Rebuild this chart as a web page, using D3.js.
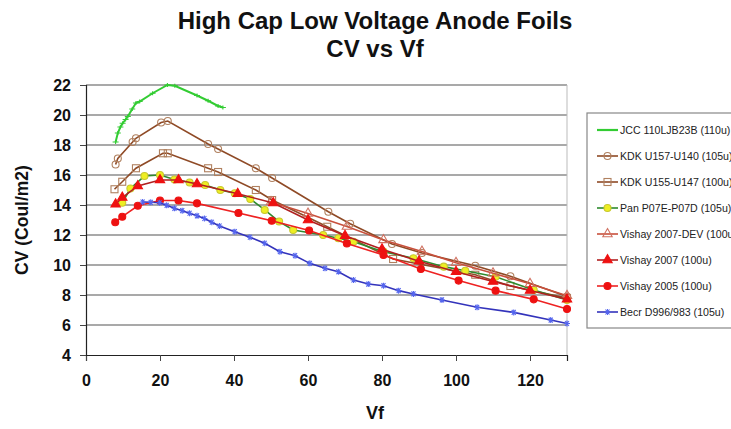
<!DOCTYPE html>
<html>
<head>
<meta charset="utf-8">
<script src="https://cdn.jsdelivr.net/npm/d3@7"></script>
<style>
  body { margin: 0; background: #fff; }
  svg text { font-family: "Liberation Sans", Arial, sans-serif; }
</style>
</head>
<body>
<svg id="chart" width="731" height="429"></svg>
<script>
// values
const jccV   = [8, 8.6, 9.3, 9.9, 10.7, 11.3, 12.5, 13.5, 14.5, 18, 22, 24, 30, 33, 35.7, 37];
const jccCV  = [18.2, 18.8, 19.2, 19.45, 19.7, 19.9, 20.4, 20.8, 20.9, 21.45, 22.0, 21.95, 21.3, 20.95, 20.6, 20.5];

const k157V  = [8, 8.6, 12.6, 13.5, 20.3, 22.1, 33, 35.7, 45.9, 50.3, 65.5, 71.4, 82.7, 90.8, 105.2, 114.7, 130];
const k157CV = [16.7, 17.1, 18.2, 18.45, 19.5, 19.6, 18.07, 17.73, 16.45, 15.8, 13.55, 12.75, 11.4, 10.8, 9.95, 9.25, 7.9];

const k155V  = [7.7, 9.8, 13.5, 20.8, 22.1, 33, 35.7, 45.9, 50.3, 65.2, 83, 105.2, 114.7, 130];
const k155CV = [15.05, 15.55, 16.45, 17.45, 17.45, 16.45, 16.2, 15.0, 14.33, 12.55, 10.4, 9.35, 8.6, 7.8];

const panV   = [9.8, 12, 15.8, 20, 23.9, 28, 32.2, 36.3, 40.2, 44.4, 48.3, 52.2, 56, 64.1, 68.2, 72.3, 80.4, 88.5, 96.7, 102.5, 110.7, 121, 130];
const panCV  = [14.15, 15.1, 15.93, 16.0, 15.7, 15.5, 15.33, 15.0, 14.78, 14.4, 13.67, 12.9, 12.33, 12.0, 11.78, 11.55, 10.89, 10.45, 9.89, 9.62, 9.22, 8.33, 7.67];

const devV   = [50, 60, 70.5, 80.4, 90.8, 100, 110, 120, 130];
const devCV  = [14.2, 13.44, 12.56, 11.67, 10.9, 10.15, 9.45, 8.75, 7.95];

const v07V   = [8, 9.8, 14, 20, 25, 30, 41, 50.6, 60, 70, 80, 90, 100, 110, 120, 130];
const v07CV  = [14.05, 14.5, 15.27, 15.67, 15.67, 15.4, 14.75, 14.13, 13.0, 11.95, 11.05, 10.25, 9.55, 8.9, 8.3, 7.72];

const v05V   = [7.9, 9.8, 14, 20, 25, 30, 41.2, 50.2, 60.3, 70.5, 80.4, 90.5, 100.7, 110.7, 121, 130];
const v05CV  = [12.85, 13.22, 13.95, 14.3, 14.3, 14.11, 13.47, 12.95, 12.3, 11.44, 10.67, 9.73, 8.96, 8.29, 7.71, 7.07];

const becrV  = [15.3, 17.5, 19.9, 21.8, 23.9, 26, 28, 30, 32, 34, 36.1, 40.2, 44.3, 48.3, 52.4, 56.5, 60.5, 64.6, 68.2, 72.3, 76.3, 80.4, 84.5, 88.5, 96.2, 105.7, 115.6, 125.6, 130];
const becrCV = [14.2, 14.18, 14.15, 13.98, 13.78, 13.62, 13.45, 13.28, 13.1, 12.85, 12.6, 12.22, 11.85, 11.45, 10.89, 10.62, 10.11, 9.78, 9.55, 9.0, 8.73, 8.62, 8.29, 8.07, 7.67, 7.18, 6.84, 6.33, 6.1];

const seriesNames = ["JCC 110LJB23B (110u)", "KDK U157-U140 (105u)", "KDK U155-U147 (100u)",
  "Pan P07E-P07D (105u)", "Vishay 2007-DEV (100u)", "Vishay 2007 (100u)", "Vishay 2005 (100u)", "Becr D996/983 (105u)"];
const xTicks = [0, 20, 40, 60, 80, 100, 120];
const yTicks = [4, 6, 8, 10, 12, 14, 16, 18, 20, 22];

const zip = (a, b) => a.map((v, i) => [v, b[i]]);
const series = [
  {name: seriesNames[0], pts: zip(jccV, jccCV),   line: "#33cc33", mark: "tick",     mfill: "none",    mstroke: "#33cc33"},
  {name: seriesNames[1], pts: zip(k157V, k157CV), line: "#8f4a26", mark: "circle",   mfill: "none",    mstroke: "#b0805f"},
  {name: seriesNames[2], pts: zip(k155V, k155CV), line: "#8f4a26", mark: "square",   mfill: "none",    mstroke: "#b0805f"},
  {name: seriesNames[3], pts: zip(panV, panCV),   line: "#2e8b2e", mark: "circle",   mfill: "#eeee22", mstroke: "#c8c830"},
  {name: seriesNames[4], pts: zip(devV, devCV),   line: "#c8503c", mark: "triangle", mfill: "none",    mstroke: "#d07060"},
  {name: seriesNames[5], pts: zip(v07V, v07CV),   line: "#b02020", mark: "triangle", mfill: "#ee1111", mstroke: "#ee1111"},
  {name: seriesNames[6], pts: zip(v05V, v05CV),   line: "#ee2222", mark: "circle",   mfill: "#ee1111", mstroke: "#ee1111"},
  {name: seriesNames[7], pts: zip(becrV, becrCV), line: "#3333bb", mark: "star",     mfill: "none",    mstroke: "#5566ee"}
];

const svg = d3.select("#chart");
const x = d3.scaleLinear().domain([0, 130]).range([86, 567]);
const y = d3.scaleLinear().domain([4, 22]).range([355, 85]);

// grid
svg.append("g").selectAll("line").data(yTicks.slice(1)).join("line")
  .attr("x1", 86).attr("x2", 567)
  .attr("y1", d => y(d)).attr("y2", d => y(d))
  .attr("stroke", "#8c8c8c").attr("stroke-width", 1.5);
svg.append("line").attr("x1", 567).attr("x2", 567).attr("y1", y(22)).attr("y2", y(4))
  .attr("stroke", "#bbb").attr("stroke-width", 1);

// axes
const xAxis = svg.append("g").attr("transform", "translate(0,355)")
  .call(d3.axisBottom(x).tickValues(xTicks).tickSize(6).tickPadding(14));
const yAxis = svg.append("g").attr("transform", "translate(86,0)")
  .call(d3.axisLeft(y).tickValues(yTicks).tickSize(6).tickPadding(9));
[xAxis, yAxis].forEach(g => {
  g.select(".domain").attr("stroke", "#222").attr("stroke-width", 1.2);
  g.selectAll(".tick line").attr("stroke", "#444");
  g.selectAll("text").attr("font-size", 16).attr("font-weight", "bold").attr("fill", "#111")
    .style("font-family", '"Liberation Sans", Arial, sans-serif');
});

// series
const line = d3.line().x(d => x(d[0])).y(d => y(d[1]));
function marker(g, s, px, py) {
  const m = g.append("g").attr("transform", `translate(${px},${py})`);
  if (s.mark === "circle") m.append("circle").attr("r", 3.5);
  else if (s.mark === "square") m.append("rect").attr("x", -3.5).attr("y", -3.5).attr("width", 7).attr("height", 7);
  else if (s.mark === "triangle") m.append("path").attr("d", d3.symbol(d3.symbolTriangle, 38)());
  else if (s.mark === "tick") m.append("path").attr("d", "M-3,0H3M0,-2V2");
  else if (s.mark === "star") m.append("path").attr("d", "M-3,0H3M-2,-2.5L2,2.5M2,-2.5L-2,2.5M0,-3V3");
  m.selectAll("*").attr("fill", s.mfill).attr("stroke", s.mstroke).attr("stroke-width", 1.1);
}
series.forEach(s => {
  const g = svg.append("g");
  g.append("path").datum(s.pts).attr("d", line)
    .attr("fill", "none").attr("stroke", s.line).attr("stroke-width", s.mark === "tick" ? 2 : 1.6);
  s.pts.forEach(p => marker(g, s, x(p[0]), y(p[1])));
});

// legend
const leg = svg.append("g");
leg.append("rect").attr("x", 587).attr("y", 113).attr("width", 160).attr("height", 215)
  .attr("fill", "#fff").attr("stroke", "#888").attr("stroke-width", 1.2);
series.forEach((s, i) => {
  const ly = 130 + i * 26;
  leg.append("line").attr("x1", 597).attr("x2", 618).attr("y1", ly).attr("y2", ly)
    .attr("stroke", s.line).attr("stroke-width", s.mark === "tick" ? 2.2 : 1.6);
  if (s.mark !== "tick") marker(leg, s, 607.5, ly);
  leg.append("text").attr("x", 620).attr("y", ly + 3.8).attr("font-size", 10.6)
    .attr("fill", "#222").text(s.name);
});

// titles
svg.append("text").attr("x", 375).attr("y", 29).attr("text-anchor", "middle")
  .attr("font-size", 24).attr("font-weight", "bold").attr("fill", "#111")
  .text("High Cap Low Voltage Anode Foils");
svg.append("text").attr("x", 375).attr("y", 57).attr("text-anchor", "middle")
  .attr("font-size", 24).attr("font-weight", "bold").attr("fill", "#111").text("CV vs Vf");
svg.append("text").attr("x", 375).attr("y", 419).attr("text-anchor", "middle")
  .attr("font-size", 18).attr("font-weight", "bold").attr("fill", "#111").text("Vf");
svg.append("text").attr("transform", "translate(28,220) rotate(-90)").attr("text-anchor", "middle")
  .attr("font-size", 17.5).attr("font-weight", "bold").attr("fill", "#111").text("CV (Coul/m2)");
</script>
</body>
</html>
